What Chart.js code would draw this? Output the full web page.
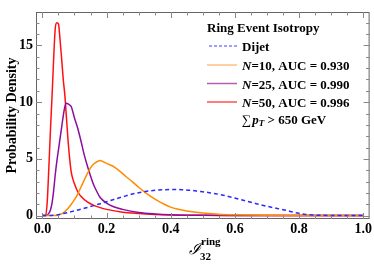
<!DOCTYPE html>
<html>
<head>
<meta charset="utf-8">
<script src="https://cdn.jsdelivr.net/npm/chart.js@4"></script>
<style>
  html, body { margin: 0; padding: 0; background: #fff; }
  #wrap { width: 374px; height: 272px; }
</style>
</head>
<body>
<div id="wrap"><canvas id="myChart" width="374" height="272"></canvas></div>
<script>
// tick labels
const xTicks = [0, 0.2, 0.4, 0.6, 0.8, 1.0];
const yTicks = [0, 5, 10, 15];

// Dijet (dashed blue)
const dijetX = [0, 0.02, 0.04, 0.06, 0.08, 0.1, 0.12, 0.14, 0.16, 0.18, 0.2, 0.22, 0.24, 0.26, 0.28, 0.3,
  0.32, 0.34, 0.36, 0.38, 0.4, 0.42, 0.44, 0.46, 0.48, 0.5, 0.52, 0.54, 0.56, 0.58, 0.6, 0.62, 0.64,
  0.66, 0.68, 0.7, 0.72, 0.74, 0.76, 0.78, 0.8, 0.82, 0.84, 0.86, 0.9, 0.95, 1.0];
const dijetY = [0, 0, 0.05, 0.15, 0.28, 0.42, 0.56, 0.72, 0.88, 1.05, 1.22, 1.4, 1.57, 1.74, 1.9, 2.02,
  2.12, 2.2, 2.25, 2.28, 2.3, 2.3, 2.27, 2.23, 2.17, 2.1, 2.02, 1.93, 1.82, 1.68, 1.55, 1.4, 1.25,
  1.1, 0.95, 0.82, 0.7, 0.58, 0.46, 0.32, 0.2, 0.1, 0.05, 0.03, 0.01, 0, 0];

// N=10 (orange)
const n10X = [0, 0.04, 0.05, 0.06, 0.07, 0.08, 0.09, 0.1, 0.11, 0.12, 0.13, 0.14, 0.15, 0.16, 0.17, 0.18,
  0.19, 0.2, 0.22, 0.24, 0.26, 0.28, 0.3, 0.32, 0.34, 0.36, 0.38, 0.4, 0.42, 0.45, 0.5, 0.55, 0.6, 0.7, 0.8, 1.0];
const n10Y = [0, 0, 0.05, 0.15, 0.35, 0.65, 1.0, 1.4, 1.9, 2.5, 3.1, 3.7, 4.2, 4.55, 4.75, 4.85,
  4.75, 4.6, 4.35, 3.95, 3.45, 3.0, 2.5, 2.05, 1.65, 1.3, 1.0, 0.75, 0.58, 0.4, 0.22, 0.12, 0.07, 0.02, 0.01, 0];

// N=25 (purple)
const n25X = [0, 0.01, 0.02, 0.025, 0.03, 0.035, 0.04, 0.045, 0.05, 0.055, 0.06, 0.065, 0.07, 0.075, 0.08,
  0.085, 0.09, 0.1, 0.11, 0.12, 0.13, 0.14, 0.15, 0.16, 0.17, 0.18, 0.2, 0.22, 0.25, 0.3, 0.35, 0.4, 0.5, 0.6, 0.8, 1.0];
const n25Y = [0, 0, 0.2, 0.5, 1.1, 2.2, 3.6, 4.8, 5.8, 6.8, 7.8, 8.8, 9.6, 9.9, 9.85,
  9.75, 9.6, 8.6, 7.7, 6.6, 5.4, 4.4, 3.5, 2.7, 2.1, 1.6, 1.1, 0.8, 0.55, 0.28, 0.15, 0.08, 0.03, 0.01, 0, 0];

// N=50 (red)
const n50X = [0, 0.01, 0.015, 0.02, 0.025, 0.03, 0.035, 0.04, 0.045, 0.05, 0.055, 0.06, 0.065, 0.07, 0.075,
  0.08, 0.085, 0.09, 0.1, 0.11, 0.12, 0.14, 0.16, 0.18, 0.2, 0.25, 0.3, 0.35, 0.4, 0.5, 0.6, 0.8, 1.0];
const n50Y = [0, 0, 1.2, 4.2, 7.5, 10.5, 13.8, 16.5, 17.0, 16.9, 15.5, 13.8, 12.0, 10.6, 8.6,
  6.6, 5.0, 3.8, 2.8, 2.1, 1.7, 1.2, 0.9, 0.7, 0.55, 0.3, 0.18, 0.1, 0.05, 0.02, 0.01, 0, 0];

const legendRows = [
  { n: '10', auc: '0.930', color: '#ffbf80', dash: [] },
  { n: '25', auc: '0.990', color: '#b060b0', dash: [] },
  { n: '50', auc: '0.996', color: '#ff5050', dash: [] }
];

function pts(xs, ys) {
  return xs.map((x, i) => ({ x: x, y: ys[i] }));
}

const SERIF = '"Liberation Serif", "Times New Roman", serif';

// frame, inward ticks, axis titles and legend
const decor = {
  id: 'decor',
  afterDraw(chart) {
    const ctx = chart.ctx;
    const a = chart.chartArea;
    const xs = chart.scales.x, ys = chart.scales.y;
    ctx.save();
    ctx.strokeStyle = '#666';
    ctx.lineWidth = 1;
    ctx.strokeRect(a.left + 0.5, a.top + 0.5, a.right - a.left - 1, a.bottom - a.top - 1);
    ctx.strokeStyle = '#888';
    ctx.beginPath();
    for (let i = 0; i <= 20; i++) {
      const v = i * 0.05;
      const px = Math.round(xs.getPixelForValue(v)) + 0.5;
      const len = (i % 4 === 0) ? 6 : 3.5;
      ctx.moveTo(px, a.bottom); ctx.lineTo(px, a.bottom - len);
      ctx.moveTo(px, a.top); ctx.lineTo(px, a.top + len);
    }
    for (let v = 0; v <= 17; v++) {
      const py = Math.round(ys.getPixelForValue(v)) + 0.5;
      const len = (v % 5 === 0) ? 6 : 3.5;
      ctx.moveTo(a.left, py); ctx.lineTo(a.left + len, py);
      ctx.moveTo(a.right, py); ctx.lineTo(a.right - len, py);
    }
    ctx.stroke();

    ctx.fillStyle = '#000';
    // y title
    ctx.save();
    ctx.translate(12, (a.top + a.bottom) / 2);
    ctx.rotate(-Math.PI / 2);
    ctx.font = 'bold 14px ' + SERIF;
    ctx.textAlign = 'center';
    ctx.textBaseline = 'middle';
    ctx.fillText('Probability Density', 0, 0);
    ctx.restore();

    // x title
    ctx.textBaseline = 'alphabetic';
    ctx.textAlign = 'left';
    ctx.font = 'italic 16px ' + SERIF;
    ctx.fillText('\u2110', 189, 254);
    ctx.font = 'bold 11px ' + SERIF;
    ctx.fillText('ring', 201, 245);
    ctx.fillText('32', 200, 260);

    // legend
    ctx.font = 'bold 13px ' + SERIF;
    ctx.fillText('Ring Event Isotropy', 207, 32);
    ctx.lineWidth = 1.5;
    ctx.strokeStyle = '#8080ff';
    ctx.setLineDash([3, 2]);
    ctx.beginPath(); ctx.moveTo(209, 46); ctx.lineTo(237, 46); ctx.stroke();
    ctx.setLineDash([]);
    ctx.fillText('Dijet', 242, 51);
    legendRows.forEach((r, i) => {
      const y = 65 + i * 18.5;
      ctx.strokeStyle = r.color;
      ctx.beginPath(); ctx.moveTo(207, y); ctx.lineTo(237, y); ctx.stroke();
      ctx.font = 'bold italic 13px ' + SERIF;
      ctx.fillText('N', 242, y + 5);
      const w = ctx.measureText('N').width;
      ctx.font = 'bold 13px ' + SERIF;
      ctx.fillText('=' + r.n + ', AUC = ' + r.auc, 242 + w, y + 5);
    });
    const yS = 124;
    ctx.font = '13px ' + SERIF;
    ctx.fillText('\u2211', 242, yS);
    let x = 242 + ctx.measureText('\u2211').width + 1;
    ctx.font = 'bold italic 13px ' + SERIF;
    ctx.fillText('p', x, yS);
    x += ctx.measureText('p').width;
    ctx.font = 'bold italic 9px ' + SERIF;
    ctx.fillText('T', x, yS + 2);
    x += ctx.measureText('T').width;
    ctx.font = 'bold 13px ' + SERIF;
    ctx.fillText(' > 650 GeV', x, yS);
    ctx.restore();
  }
};

const ctx = document.getElementById('myChart').getContext('2d');
const line = (data, color, dash) => ({
  data: data, borderColor: color, borderWidth: 1.5, borderDash: dash || [],
  pointRadius: 0, fill: false, tension: 0.3, cubicInterpolationMode: 'monotone'
});

new Chart(ctx, {
  type: 'line',
  data: {
    datasets: [
      line(pts(dijetX, dijetY), '#2a2aff', [4, 3]),
      line(pts(n10X, n10Y), '#ff8c00'),
      line(pts(n25X, n25Y), '#8a0fa0'),
      line(pts(n50X, n50Y), '#ff1010')
    ]
  },
  options: {
    responsive: false,
    animation: false,
    layout: { padding: { top: 12, right: 3, left: 0, bottom: 0 } },
    plugins: { legend: { display: false }, tooltip: { enabled: false } },
    scales: {
      x: {
        type: 'linear', min: -0.02, max: 1.02,
        grid: { display: false, drawTicks: false },
        border: { display: false },
        afterBuildTicks: s => { s.ticks = xTicks.map(v => ({ value: v })); },
        afterFit: s => { s.height = 53; },
        ticks: {
          padding: 2, color: '#000',
          font: { family: SERIF, size: 14, weight: 'bold' },
          callback: v => v.toFixed(1)
        }
      },
      y: {
        type: 'linear', min: -0.3, max: 17.95,
        grid: { display: false, drawTicks: false },
        border: { display: false },
        afterBuildTicks: s => { s.ticks = yTicks.map(v => ({ value: v })); },
        afterFit: s => { s.width = 36; },
        ticks: {
          padding: 3, color: '#000',
          font: { family: SERIF, size: 14, weight: 'bold' }
        }
      }
    }
  },
  plugins: [decor]
});
</script>
</body>
</html>
